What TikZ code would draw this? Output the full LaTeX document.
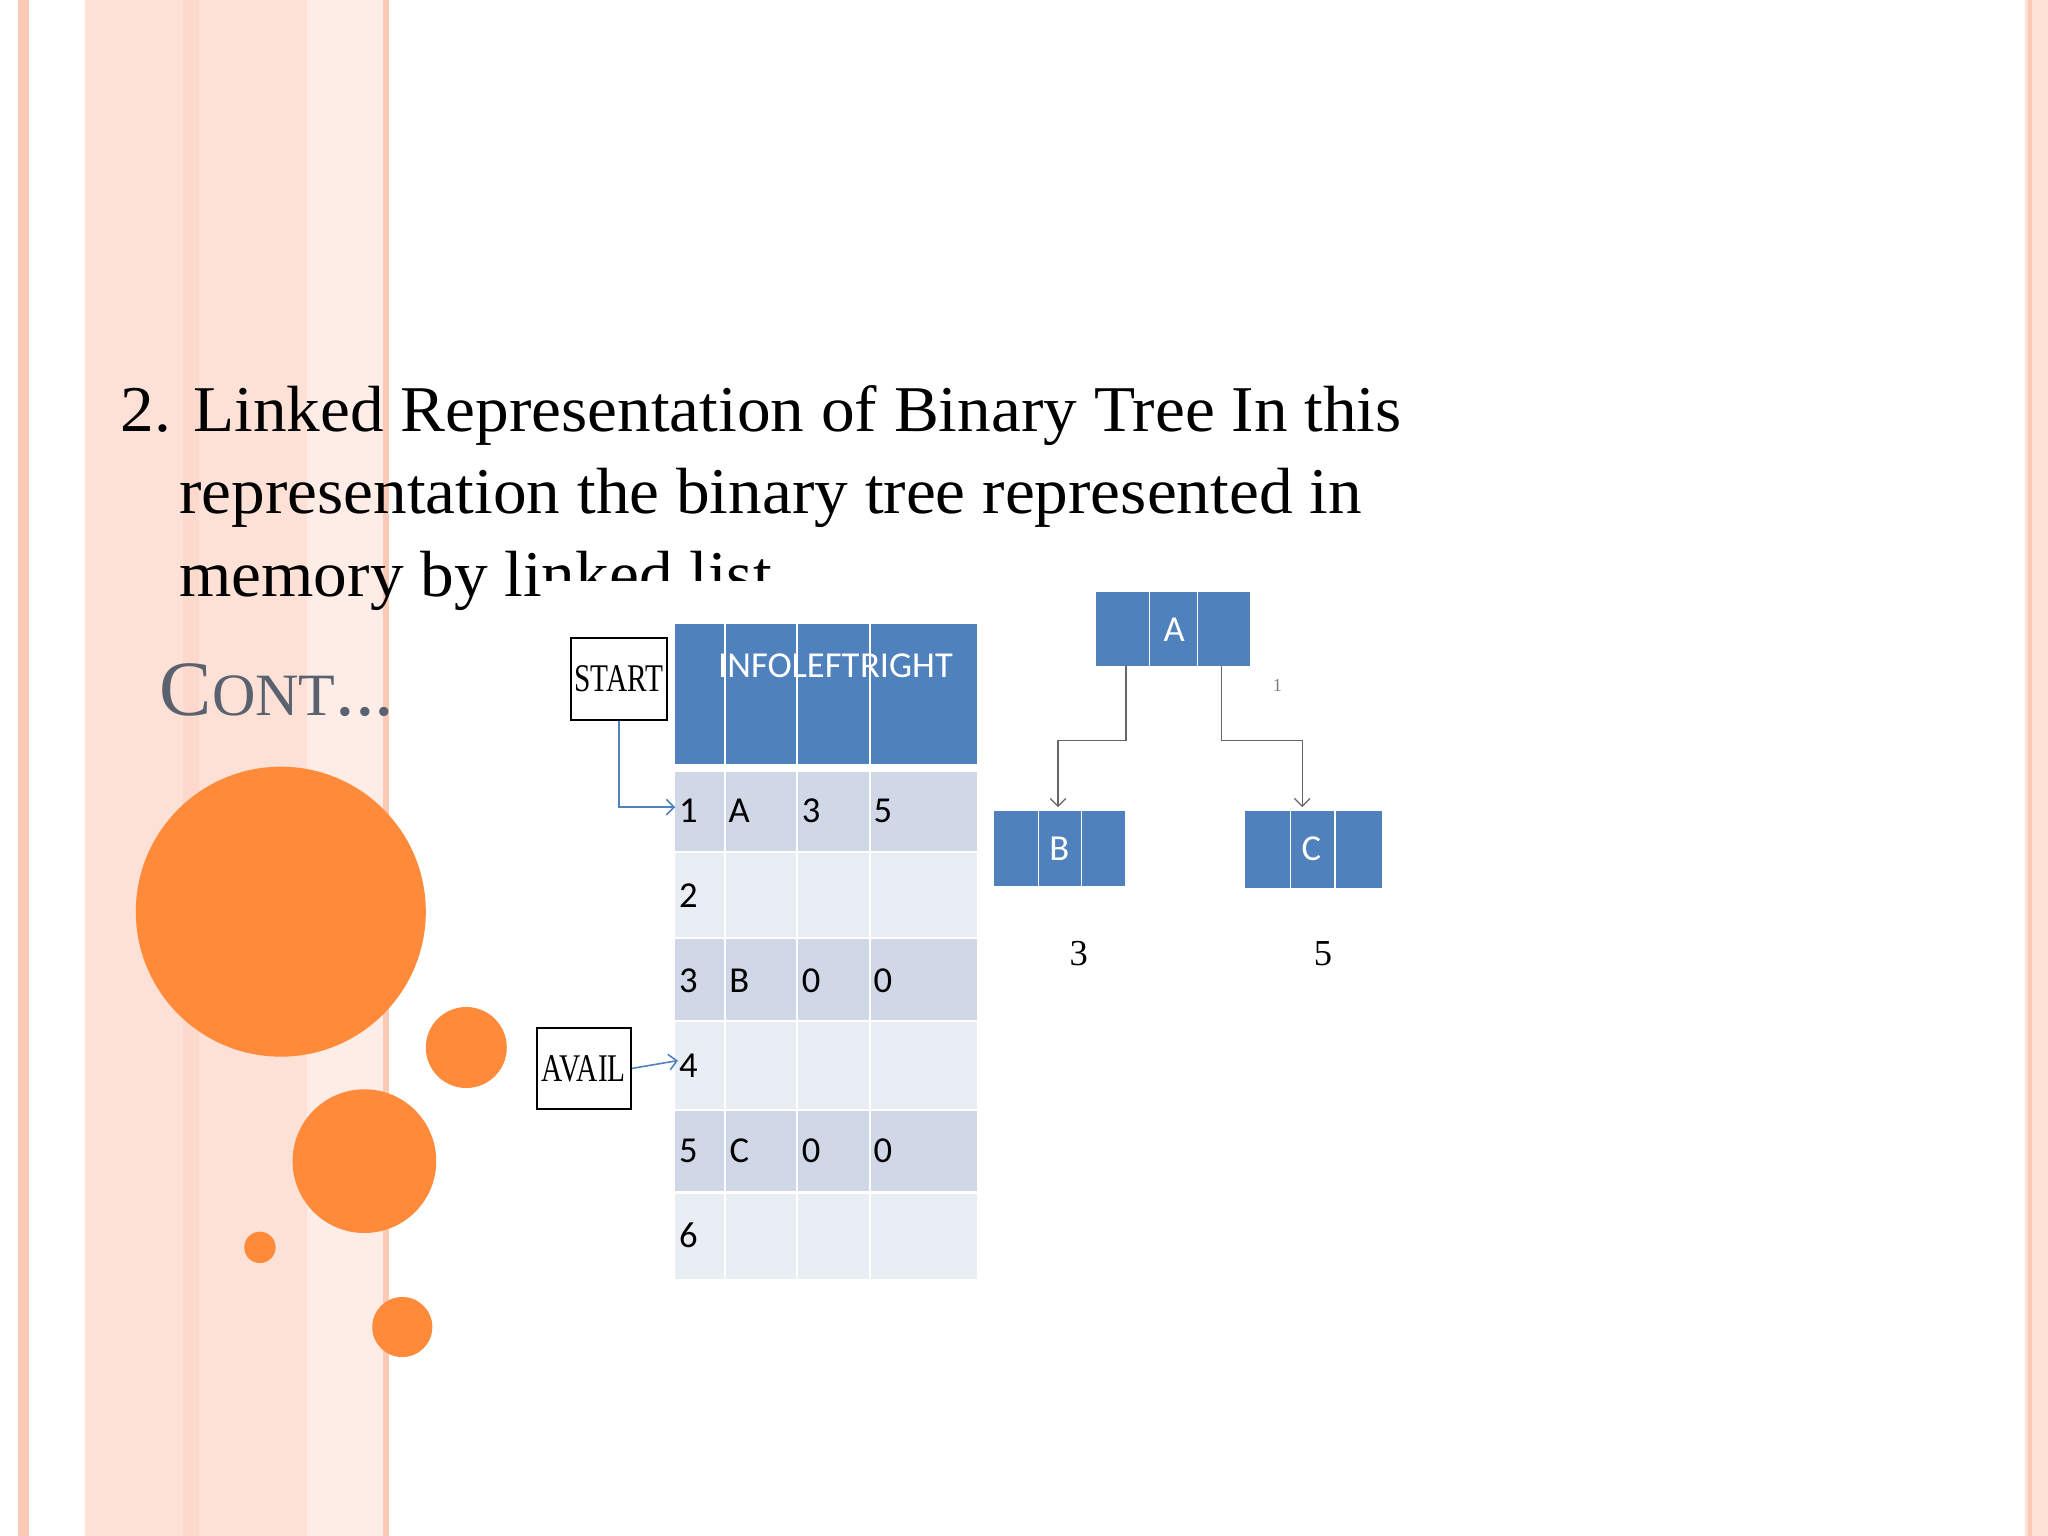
\documentclass[tikz,border=0pt]{standalone}
\usepackage{fontspec}
\setmainfont{Liberation Serif}
\newfontfamily\tabfont{Carlito}
\usetikzlibrary{arrows.meta}
\definecolor{hdr}{HTML}{4F81BD}
\definecolor{rowd}{HTML}{D0D8E8}
\definecolor{rowl}{HTML}{E9EDF4}
\definecolor{orng}{HTML}{FF8A3A}
\definecolor{pnk}{HTML}{FDE0D6}
\definecolor{pnk2}{HTML}{FBC9B6}
\definecolor{gtxt}{HTML}{5A6270}
\tikzset{
  box/.style={draw=black,line width=0.8pt,fill=white},
  lbl/.style={font=\tabfont\fontsize{14}{14}\selectfont,inner sep=0pt},
  hlbl/.style={font=\tabfont\fontsize{14}{14}\selectfont,text=white,inner sep=0pt},
  conn/.style={draw=hdr,line width=0.6pt,-{Straight Barb[length=3pt]}},
  tconn/.style={draw=gray!80!black,line width=0.5pt,-{Straight Barb[length=3pt]}},
  cell/.style={fill=hdr,draw=white,line width=0.5pt},
  body/.style={font=\fontsize{25}{25}\selectfont,anchor=base west,inner sep=0pt}
}
\begin{document}
\begin{tikzpicture}[x=0.5pt,y=-0.5pt]
\useasboundingbox (0,0) rectangle (1568,1176);
\fill[white] (0,0) rectangle (1568,1176);
% stripes
\fill[pnk] (0,0) rectangle (298,1176);
\fill[white] (0,0) rectangle (14,1176);
\fill[pnk2] (14,0) rectangle (22,1176);
\fill[white] (22,0) rectangle (65,1176);
\fill[pnk2!70] (140,0) rectangle (152,1176);
\fill[pnk!60] (235,0) rectangle (293,1176);
\fill[pnk2] (293,0) rectangle (298,1176);
\fill[pnk] (1550,0) rectangle (1568,1176);
\fill[pnk2] (1553,0) rectangle (1556,1176);
% body text
\node[body] (l1) at (92,330) {\scalebox{1.03}[1]{2. Linked Representation of Binary Tree In this}};
\node[body] (l2) at (137,393) {\scalebox{1.03}[1]{representation the binary tree represented in}};
\node[body] (l3) at (137,457) {\scalebox{1.03}[1]{memory by linked list}};
\fill[white] (415,445) rectangle (790,470);
\node[font=\fontsize{30}{30}\selectfont,text=gtxt,anchor=base west,inner sep=0pt] (cont) at (122,548) {C{\fontsize{23}{23}\selectfont ONT}...};
% circles
\fill[orng] (215,698) circle (111);
\fill[orng] (357,802) circle (31);
\fill[orng] (279,889) circle (55);
\fill[orng] (199,955) circle (12);
\fill[orng] (308,1016) circle (23);
% table
\fill[hdr] (517,478) rectangle (748,585);
\foreach \x in {555,610,666} \draw[white,line width=0.6pt] (\x,478) -- (\x,585);
\foreach \ya/\yb/\c in {591/652/rowd,652/718/rowl,718/782/rowd,782/850/rowl,850/913/rowd,913/979/rowl}
  \fill[\c] (517,\ya) rectangle (748,\yb);
\foreach \x in {555,610,666} \draw[white,line width=0.6pt] (\x,591) -- (\x,979);
\foreach \y in {652,718,782,850,913} \draw[white,line width=0.8pt] (517,\y) -- (748,\y);
\node[hlbl] (hinfo) at (578,510) {INFO};
\node[hlbl] (hleft) at (632,510) {LEFT};
\node[hlbl] (hright) at (694,510) {RIGHT};
\node[lbl] (r1) at (527,621) {1};
\node[lbl] at (566,621) {A};
\node[lbl] at (621,621) {3};
\node[lbl] at (676,621) {5};
\node[lbl] (r2) at (527,686) {2};
\node[lbl] (r3) at (527,751) {3};
\node[lbl] at (566,751) {B};
\node[lbl] at (621,751) {0};
\node[lbl] at (676,751) {0};
\node[lbl] (r4) at (527,816) {4};
\node[lbl] (r5) at (527,881) {5};
\node[lbl] at (566,881) {C};
\node[lbl] at (621,881) {0};
\node[lbl] at (676,881) {0};
\node[lbl] (r6) at (527,946) {6};
% START / AVAIL
\node[box,minimum width=37pt,minimum height=31.5pt,inner sep=0pt,font=\fontsize{15}{15}\selectfont] (start) at (474,520) {\scalebox{0.75}[1]{START}};
\node[box,minimum width=36pt,minimum height=31pt,inner sep=0pt,font=\fontsize{15}{15}\selectfont] (avail) at (447,818) {\scalebox{0.75}[1]{AVAIL}};
\coordinate (sA) at (517,618);
\coordinate (sB) at (519,812);
\draw[conn] (start.south) |- (sA);
\draw[conn] (avail.east) -- (sB);
% tree
\foreach \n/\xa/\xb/\xc/\xd/\ya/\yb in {A/839/880/917/957/453/510,B/761/795/828/861/621/678,C/953/988/1022/1058/621/680}{
  \fill[hdr] (\xa,\ya) rectangle (\xd,\yb);
  \draw[white,line width=0.5pt] (\xb,\ya) -- (\xb,\yb) (\xc,\ya) -- (\xc,\yb);
}
\node[hlbl] (nA) at (899,482) {A};
\node[hlbl] (nB) at (811,650) {B};
\node[hlbl] (nC) at (1004,650) {C};
\coordinate (aL) at (862,510);
\coordinate (aR) at (935,510);
\coordinate (bT) at (810,618);
\coordinate (cT) at (997,618);
\draw[tconn] (aL) -- (862,567) -| (bT);
\draw[tconn] (aR) -- (935,567) -| (cT);
\node[font=\fontsize{7}{7}\selectfont,text=gray] (one) at (978,525) {1};
\node[font=\fontsize{14}{14}\selectfont] (three) at (826,730) {3};
\node[font=\fontsize{14}{14}\selectfont] (five) at (1013,730) {5};
\end{tikzpicture}
\end{document}
